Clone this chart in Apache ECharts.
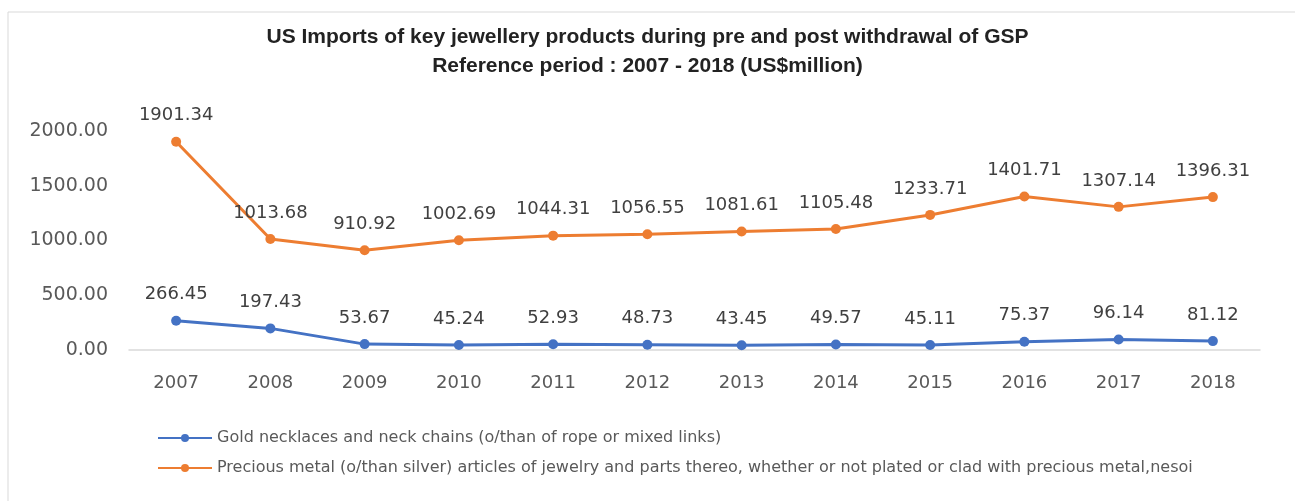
<!DOCTYPE html>
<html>
<head>
<meta charset="utf-8">
<script src="https://cdn.jsdelivr.net/npm/echarts@6/dist/echarts.min.js"></script>
<style>
  html, body { margin: 0; padding: 0; background: #fff; }
  #chart { width: 1295px; height: 501px; }
</style>
</head>
<body>
<div id="chart"></div>
<script>
const years = ['2007', '2008', '2009', '2010', '2011', '2012', '2013', '2014', '2015', '2016', '2017', '2018']
const goldNecklaces = [266.45, 197.43, 53.67, 45.24, 52.93, 48.73, 43.45, 49.57, 45.11, 75.37, 96.14, 81.12]
const preciousMetal = [1901.34, 1013.68, 910.92, 1002.69, 1044.31, 1056.55, 1081.61, 1105.48, 1233.71, 1401.71, 1307.14, 1396.31]
const yTicks = [0, 500, 1000, 1500, 2000]

const goldName = 'Gold necklaces and neck chains (o/than of rope or mixed links)'
const metalName = 'Precious metal (o/than silver) articles of jewelry and parts thereo, whether or not plated or clad with precious metal,nesoi'

const chart = echarts.init(document.getElementById('chart'))

const labelStyle = {
  show: true,
  position: 'top',
  distance: 12,
  color: '#404040',
  fontFamily: 'DejaVu Sans',
  fontSize: 18,
  formatter: p => p.value.toFixed(2)
}

const option = {
  animation: false,
  title: {
    text: 'US Imports of key jewellery products during pre and post withdrawal of GSP\nReference period : 2007 - 2018 (US$million)',
    left: 'center',
    top: 18,
    textStyle: {
      fontFamily: 'Liberation Sans',
      fontSize: 21,
      fontWeight: 'bold',
      color: '#222',
      lineHeight: 29
    }
  },
  legend: {
    orient: 'vertical',
    left: 152,
    top: 425,
    itemWidth: 54,
    itemHeight: 10,
    itemGap: 14,
    data: [goldName, metalName],
    textStyle: { fontFamily: 'DejaVu Sans', fontSize: 16, color: '#595959' }
  },
  grid: { left: 129, right: 35, top: 131, bottom: 151 },
  xAxis: {
    type: 'category',
    data: years,
    axisLine: { lineStyle: { color: '#d9d9d9', width: 1.5 } },
    axisTick: { show: false },
    axisLabel: { color: '#595959', fontFamily: 'DejaVu Sans', fontSize: 18, margin: 24 }
  },
  yAxis: {
    type: 'value',
    min: yTicks[0],
    max: yTicks[yTicks.length - 1],
    interval: 500,
    splitLine: { show: false },
    axisLabel: {
      color: '#595959',
      fontFamily: 'DejaVu Sans',
      fontSize: 19,
      margin: 21,
      formatter: v => v.toFixed(2)
    }
  },
  series: [
    {
      name: goldName,
      type: 'line',
      data: goldNecklaces,
      symbol: 'circle',
      symbolSize: 10,
      lineStyle: { color: '#4472C4', width: 3 },
      itemStyle: { color: '#4472C4' },
      label: labelStyle
    },
    {
      name: metalName,
      type: 'line',
      data: preciousMetal,
      symbol: 'circle',
      symbolSize: 10,
      lineStyle: { color: '#ED7D31', width: 3 },
      itemStyle: { color: '#ED7D31' },
      label: labelStyle
    }
  ],
  graphic: [
    {
      type: 'rect',
      shape: { x: 8, y: 12, width: 1300, height: 500 },
      style: { fill: 'none', stroke: '#d9d9d9', lineWidth: 1 },
      silent: true
    }
  ]
}

chart.setOption(option)
</script>
</body>
</html>
